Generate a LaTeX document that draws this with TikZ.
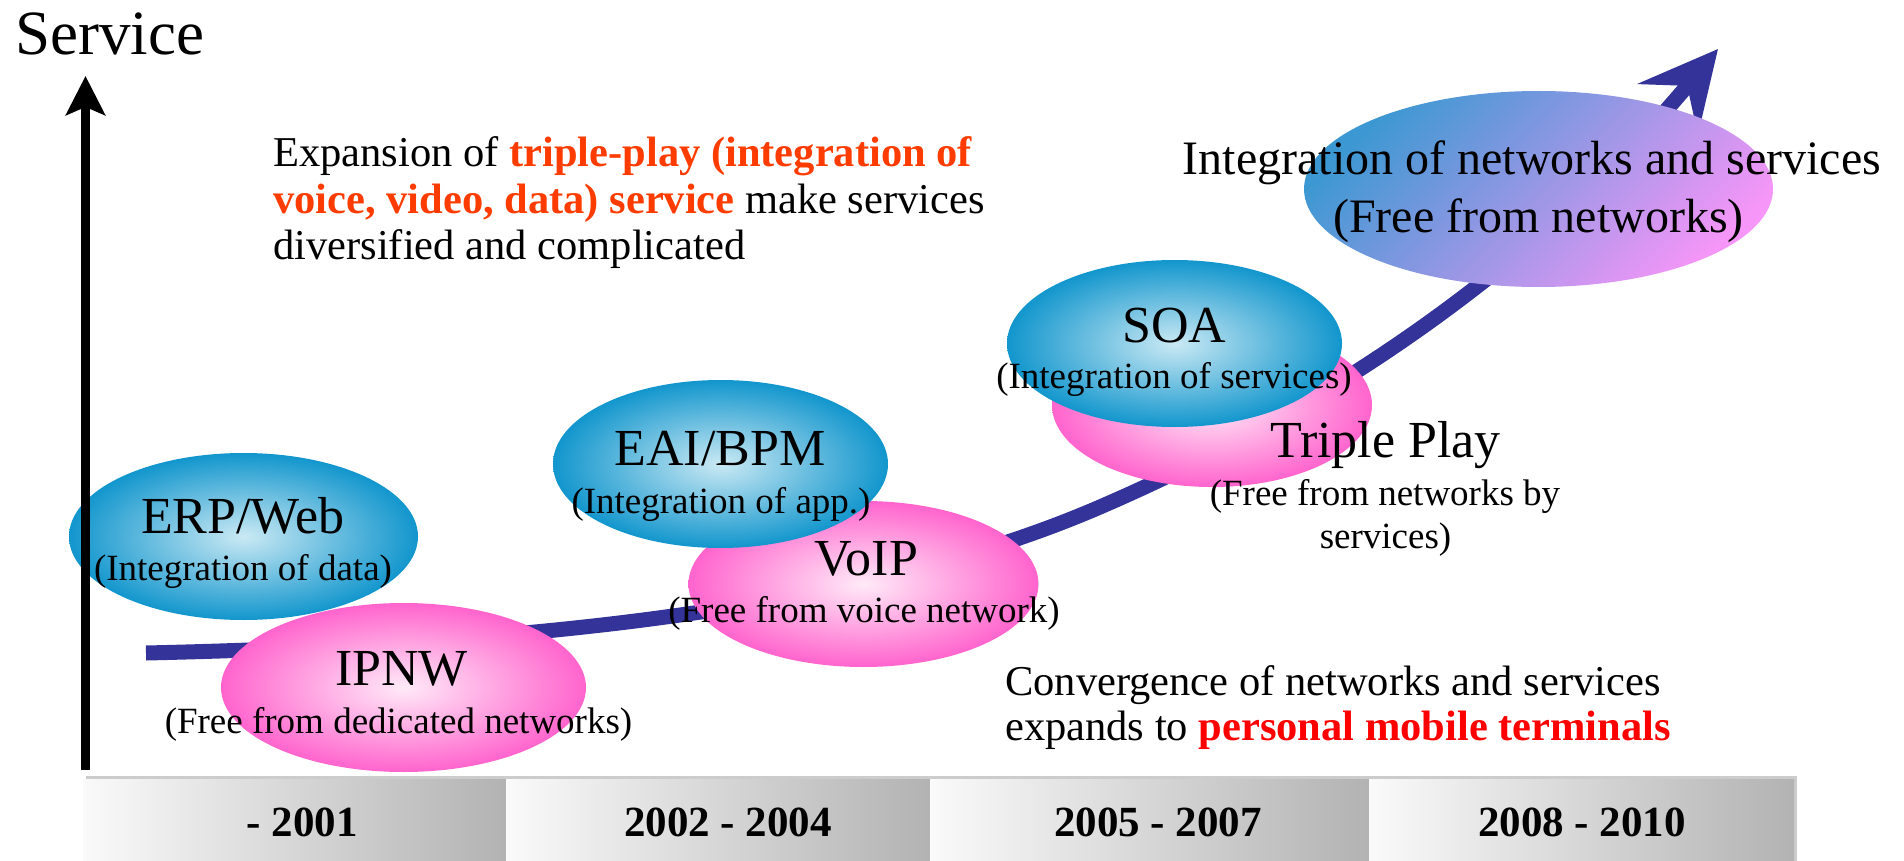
\documentclass[tikz,border=0pt]{standalone}
\usepackage{fontspec}
\setmainfont{Liberation Serif}
\usetikzlibrary{shapes.geometric,arrows.meta}
\definecolor{arrowblue}{RGB}{51,51,153}
\definecolor{blueout}{RGB}{18,150,205}
\definecolor{bluein}{RGB}{202,233,244}
\definecolor{pinkout}{RGB}{255,100,205}
\definecolor{pinkin}{RGB}{255,234,248}
\definecolor{topblue}{RGB}{60,152,210}
\definecolor{toppink}{RGB}{245,150,248}
\definecolor{hlorange}{RGB}{255,60,0}
\definecolor{hlred}{RGB}{255,0,0}
\begin{document}
\begin{tikzpicture}[x=1pt,y=1pt,
  ell/.style={ellipse, inner sep=0pt, draw=none},
  blueell/.style={ell, inner color=bluein, outer color=blueout},
  pinkell/.style={ell, inner color=pinkin, outer color=pinkout},
  title/.style={font=\fontsize{52}{60}\selectfont, anchor=base, inner sep=0pt},
  sub/.style={font=\fontsize{37}{44}\selectfont, anchor=base, inner sep=0pt},
  big/.style={font=\fontsize{48}{56}\selectfont, anchor=base, inner sep=0pt},
  note/.style={font=\fontsize{42.5}{48}\selectfont, anchor=base west, inner sep=0pt},
  yearbox/.style={rectangle, inner sep=0pt, minimum height=82pt, left color=black!2, right color=black!30, draw=none},
  year/.style={font=\bfseries\fontsize{43}{50}\selectfont, anchor=base, inner sep=0pt}
]
\useasboundingbox (0,0) rectangle (1904,-861);

% timeline
\node[rectangle, inner sep=0pt, fill=black!20, minimum width=1711pt, minimum height=85pt, anchor=north west] (shadow) at (86,-776) {};
\node[yearbox, minimum width=423pt, anchor=north west] (b1) at (83,-779) {};
\node[yearbox, minimum width=424pt, anchor=north west] (b2) at (506,-779) {};
\node[yearbox, minimum width=439pt, anchor=north west] (b3) at (930,-779) {};
\node[yearbox, minimum width=425pt, anchor=north west] (b4) at (1369,-779) {};
\node[year] (y1) at (302,-836) {- 2001};
\node[year] (y2) at (728,-836) {2002 - 2004};
\node[year] (y3) at (1158,-836) {2005 - 2007};
\node[year] (y4) at (1582,-836) {2008 - 2010};

% main curved arrow
\coordinate (cs) at (146,-653);
\coordinate (ce) at (1718,-49);
\draw[arrowblue, line width=15pt, -{Stealth[length=78pt,width=78pt,inset=30pt]}]
  (cs) .. controls (500,-645) and (850,-615) .. (1100,-507)
       .. controls (1350,-399) and (1550,-250) .. (ce);

% pink ellipses
\node[pinkell, minimum width=365pt, minimum height=169pt] (ipnw) at (403.5,-687.5) {};
\node[pinkell, minimum width=350pt, minimum height=166pt] (voip) at (863.5,-584) {};
\node[pinkell, minimum width=320pt, minimum height=164pt] (tp) at (1212,-405) {};
% blue ellipses
\node[blueell, minimum width=349pt, minimum height=167pt] (erp) at (243.5,-536.5) {};
\node[blueell, minimum width=335pt, minimum height=168pt] (eai) at (720.5,-464) {};
\node[blueell, minimum width=335pt, minimum height=167pt] (soa) at (1174.5,-343.5) {};
% top ellipse
\node[ell, minimum width=469pt, minimum height=196pt, top color=topblue, bottom color=toppink, shading angle=45] (intg) at (1538.5,-189) {};

% vertical axis
\coordinate (axb) at (85.5,-770);
\coordinate (axt) at (85.5,-76);
\draw[line width=9pt, -{Stealth[length=39pt,width=39pt,inset=8pt]}] (axb) -- (axt);
\node[font=\fontsize{63}{70}\selectfont, anchor=base west, inner sep=0pt] (svc) at (15,-55) {Service};

% ellipse texts
\node[title] (erpT) at (243,-533) {ERP/Web};
\node[sub] (erpS) at (243,-580) {(Integration of data)};
\node[title] (ipnwT) at (401.5,-685) {IPNW};
\node[sub] (ipnwS) at (398.5,-733) {(Free from dedicated networks)};
\node[title] (eaiT) at (720,-465) {EAI/BPM};
\node[sub] (eaiS) at (721,-513) {(Integration of app.)};
\node[title] (voipT) at (866.5,-575) {VoIP};
\node[sub] (voipS) at (864,-622) {(Free from voice network)};
\node[title] (soaT) at (1174.5,-342) {SOA};
\node[sub] (soaS) at (1174,-388) {(Integration of services)};
\node[title] (tpT) at (1385.5,-457) {Triple Play};
\node[sub] (tpS1) at (1385,-505) {(Free from networks by};
\node[sub] (tpS2) at (1385.5,-548) {services)};
\node[big] (intgT) at (1532,-175) {Integration of networks and services};
\node[big] (intgS) at (1538.5,-233) {(Free from networks)};

% notes
\node[note] (ex1) at (273,-167) {Expansion of {\bfseries\color{hlorange}triple-play (integration of}};
\node[note] (ex2) at (273,-213.5) {{\bfseries\color{hlorange}voice, video, data) service} make services};
\node[note] (ex3) at (273,-260) {diversified and complicated};
\node[note] (cv1) at (1005,-695) {Convergence of networks and services};
\node[note] (cv2) at (1005,-740) {expands to {\bfseries\color{hlred}personal mobile terminals}};
\end{tikzpicture}
\end{document}
